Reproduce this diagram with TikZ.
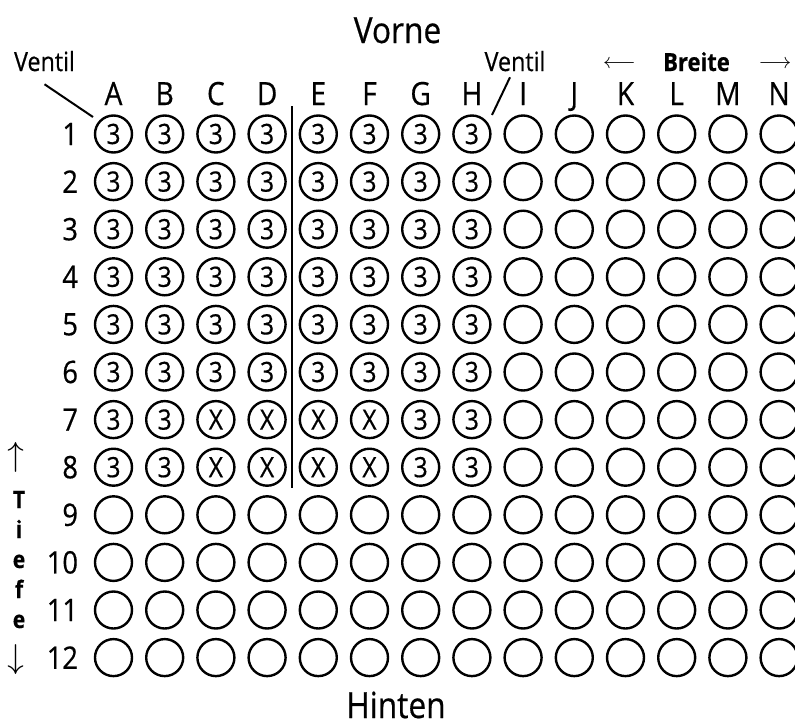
\documentclass[tikz,border=0pt]{standalone}
\usepackage{fontspec}
\usepackage{unicode-math}
\setmainfont[FakeStretch=0.88, FakeBold=0.5]{Open Sans}

\tikzset{
    hole/.style={circle, draw, line width=2.4pt, minimum size=37pt, inner sep=0pt,
        font=\fontsize{28}{30}\selectfont},
    collabel/.style={anchor=base, inner sep=0pt, font=\fontsize{32}{34}\selectfont},
    rowlabel/.style={anchor=east, inner sep=0pt, font=\fontsize{31}{33}\selectfont},
    sidelabel/.style={anchor=base, inner sep=0pt, font=\fontsize{36}{38}\selectfont},
    ventil/.style={anchor=base, inner sep=0pt, font=\fontsize{26.5}{28}\selectfont},
    boldlabel/.style={anchor=base, inner sep=0pt, font=\bfseries\fontsize{24}{26}\selectfont},
    arrowsym/.style={inner sep=0pt},
}

\begin{document}
\begin{tikzpicture}[x=1pt, y=-1pt, line width=2pt]
\useasboundingbox (0,0) rectangle (795,726);

\node[sidelabel] (vorne) at (397.5,43) {Vorne};
\node[sidelabel, font=\fontsize{36}{38}\selectfont] (hinten) at (396,718) {Hinten};

%\draw (0,0) rectangle (795,726);

% grid of holes
\foreach \c [count=\i from 0] in {A,B,C,D,E,F,G,H,I,J,K,L,M,N}{
    \node[collabel] (col\c) at (113.5+51.2*\i,105) {\c};
    \foreach \r in {1,...,12}{
        \def\holetext{}
        \ifnum\i<8 \ifnum\r<9 \def\holetext{3}\fi\fi
        \ifnum\r>6 \ifnum\r<9 \ifnum\i>1 \ifnum\i<6 \def\holetext{X}\fi\fi\fi\fi
        \node[hole] (\c\r) at (113.5+51.2*\i,86.4+47.6*\r) {\holetext};
    }
}
\foreach \r in {1,...,12}
    \node[rowlabel] (row\r) at (79,86.4+47.6*\r) {\r};

% divider between D and E
\coordinate (divtop) at (292,106);
\coordinate (divbot) at (292,488);
\draw[line width=2.4pt] (divtop) -- (divbot);

% valves
\node[ventil] (ventilA) at (44.5,71) {Ventil};
\coordinate (ventilAtip) at (93,117);
\draw ([yshift=-12pt]ventilA.south) -- (ventilAtip);
\node[ventil] (ventilH) at (515,71) {Ventil};
\coordinate (ventilHtip) at (492,115);
\draw ([xshift=-5pt,yshift=-5pt]ventilH.south) -- (ventilHtip);

% width
\node[boldlabel, font=\bfseries\fontsize{25}{27}\selectfont] (breite) at (696.5,71) {Breite};
\node[arrowsym, font=\fontsize{22}{24}\selectfont] (breiteL) at (619.5,63) {$\longleftarrow$};
\node[arrowsym, font=\fontsize{22}{24}\selectfont] (breiteR) at (775.5,63) {$\longrightarrow$};

% depth
\foreach \l [count=\k] in {T,i,e,f,e}
    \node[boldlabel] (tiefe\k) at (19,478+30*\k) {\l};
\node[arrowsym, font=\fontsize{34}{36}\selectfont] (tiefeU) at (16,457) {$\uparrow$};
\node[arrowsym, font=\fontsize{34}{36}\selectfont] (tiefeD) at (16,660) {$\downarrow$};
\end{tikzpicture}
\end{document}
